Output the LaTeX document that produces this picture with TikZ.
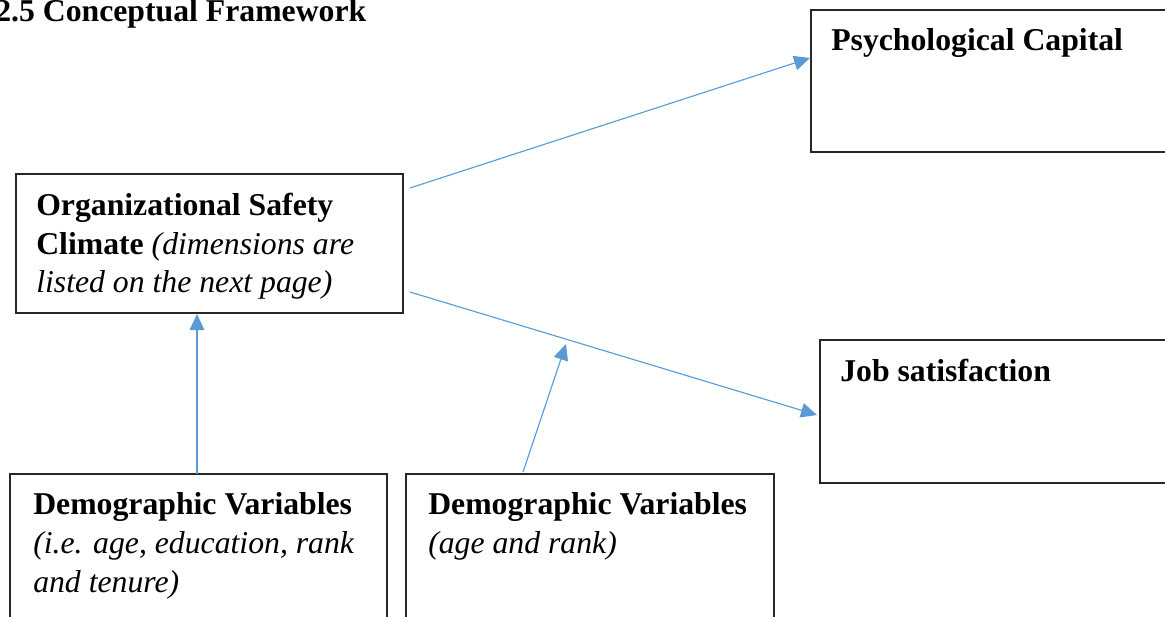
\documentclass[tikz,border=0pt]{standalone}
\usepackage{fontspec}
\setmainfont{Liberation Serif}
\usetikzlibrary{arrows.meta,fit}
\definecolor{arrowblue}{HTML}{5B9BD5}
\begin{document}
\begin{tikzpicture}[x=0.75pt,y=-0.75pt,
  box/.style={draw=black!85,line width=1pt,inner sep=0pt,fit={#1}},
  txt/.style={anchor=base west,inner sep=0pt,font=\fontsize{23.8}{28.9}\selectfont},
  conn/.style={draw=arrowblue,line width=0.85pt,-{Triangle[length=12pt,width=11pt]}}]
\useasboundingbox (0,0) rectangle (1165,617);
\clip (0,0) rectangle (1165,617);
% title
\node[txt] (title) at (-5,22) {\textbf{2.5 Conceptual Framework}};
% boxes
\node[box={(811,10) (1180,152)}] (psy) {};
\node[box={(16,174) (403,313)}] (osc) {};
\node[box={(820,340) (1180,483)}] (job) {};
\node[box={(10,474) (387,640)}] (dv1) {};
\node[box={(406,474) (774,640)}] (dv2) {};
% texts
\node[txt] (psyt) at (831,51) {\textbf{Psychological Capital}};
\node[txt] (osct1) at (36,215) {\textbf{Organizational Safety}};
\node[txt] (osct2) at (36,254) {\textbf{Climate} \textit{(dimensions are}};
\node[txt] (osct3) at (36,292) {\textit{listed on the next page)}};
\node[txt] (jobt) at (840,381) {\textbf{Job satisfaction}};
\node[txt] (dv1t1) at (33,514) {\textbf{Demographic Variables}};
\node[txt] (dv1t2) at (33,553) {\textit{(i.e. age, education, rank}};
\node[txt] (dv1t3) at (33,592) {\textit{and tenure)}};
\node[txt] (dv2t1) at (428,514) {\textbf{Demographic Variables}};
\node[txt] (dv2t2) at (428,553) {\textit{(age and rank)}};
% connector end points
\coordinate (a1s) at (410,188);
\coordinate (a1e) at (810,58);
\coordinate (a2s) at (410,292);
\coordinate (a2e) at (817,415);
\coordinate (a3s) at (197,474);
\coordinate (a3e) at (197,314);
\coordinate (a4s) at (523,472);
\coordinate (a4e) at (566,344);
\draw[conn] (a1s) -- (a1e);
\draw[conn] (a2s) -- (a2e);
\draw[conn] (a3s) -- (a3e);
\draw[conn] (a4s) -- (a4e);
\end{tikzpicture}
\end{document}
